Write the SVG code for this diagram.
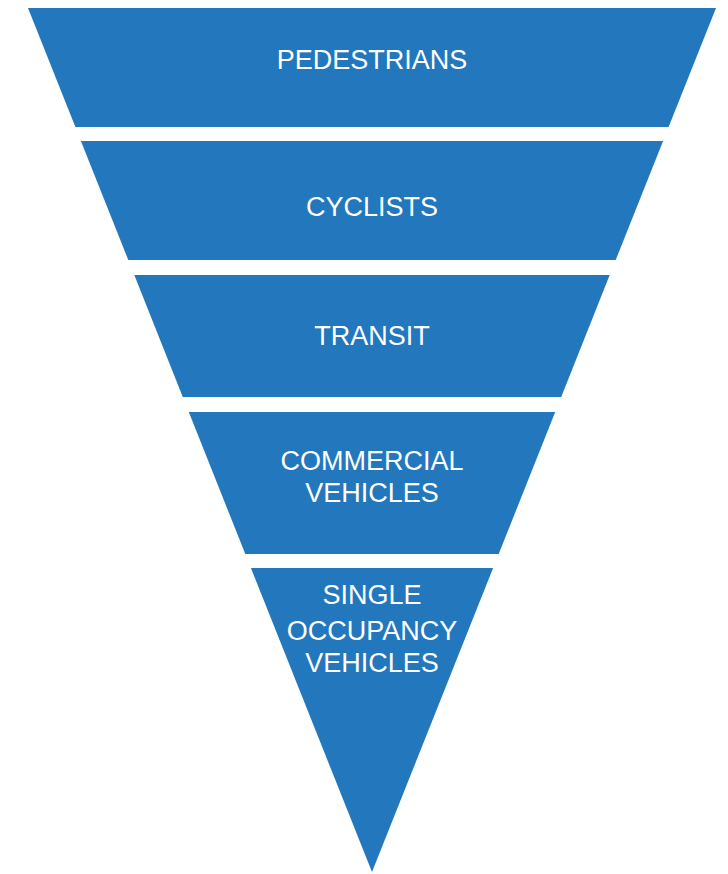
<svg xmlns="http://www.w3.org/2000/svg" width="728" height="874" viewBox="0 0 728 874">
<style>
.band{fill:#2277bd}
.lbl{fill:#ffffff;font-family:"Liberation Sans",Arial,sans-serif;font-size:27px;text-anchor:middle}
</style>
<rect width="728" height="874" fill="#ffffff"/>
<g id="pedestrians">
<polygon class="band" points="28,8 716,8 668.6,127 75.4,127"/>
<text class="lbl" x="372" y="69">PEDESTRIANS</text>
</g>
<g id="cyclists">
<polygon class="band" points="80.9,141 663.1,141 615.7,260 128.3,260"/>
<text class="lbl" x="372" y="216">CYCLISTS</text>
</g>
<g id="transit">
<polygon class="band" points="134.3,275 609.7,275 561.2,397 182.8,397"/>
<text class="lbl" x="372" y="345">TRANSIT</text>
</g>
<g id="commercial">
<polygon class="band" points="188.8,412 555.2,412 498.7,554 245.3,554"/>
<text class="lbl" x="372" y="470">COMMERCIAL</text>
<text class="lbl" x="372" y="502">VEHICLES</text>
</g>
<g id="sov">
<polygon class="band" points="250.9,568 493.1,568 372,872"/>
<text class="lbl" x="372" y="604">SINGLE</text>
<text class="lbl" x="372" y="640">OCCUPANCY</text>
<text class="lbl" x="372" y="672">VEHICLES</text>
</g>
<g id="connectors"/>
</svg>
